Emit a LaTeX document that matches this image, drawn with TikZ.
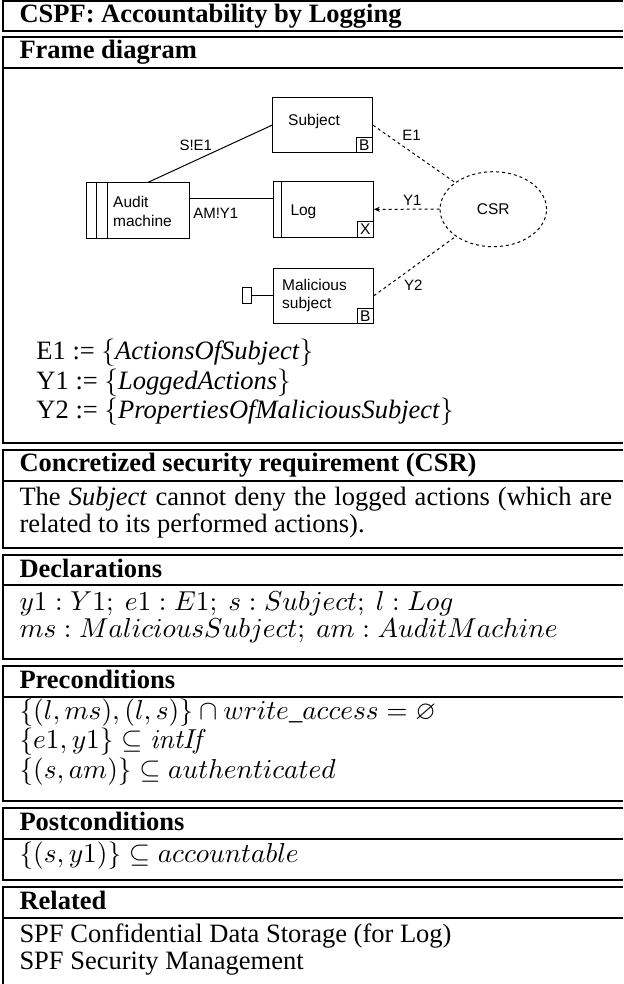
\documentclass[tikz,border=0pt]{standalone}
\usepackage{amssymb}
\usepackage[no-math]{fontspec}
\setmainfont{Liberation Serif}
\newfontfamily\diagfont{Liberation Sans}
\usetikzlibrary{arrows.meta,shapes.geometric}

\tikzset{
    rule/.style={line width=0.5pt},
    hdr/.style={anchor=base west, inner sep=0pt, font=\fontsize{10.6}{12.7}\selectfont\bfseries},
    body/.style={anchor=base west, inner sep=0pt, font=\fontsize{10.6}{12.7}\selectfont},
    dom/.style={draw, line width=0.4pt, minimum width=40pt, minimum height=22.2pt, inner sep=0pt},
    dtext/.style={anchor=base west, inner sep=0pt, font=\diagfont\fontsize{6.2}{7}\selectfont},
    flag/.style={draw, line width=0.4pt, minimum width=6.5pt, minimum height=6.2pt, inner sep=0pt, font=\diagfont\fontsize{6.2}{7}\selectfont},
    lbl/.style={inner sep=0pt, font=\diagfont\fontsize{6}{7}\selectfont},
    iface/.style={line width=0.4pt, dash pattern=on 1.2pt off 1.2pt}
}

\begin{document}
\begin{tikzpicture}[x=0.4pt, y=-0.4pt]
    \useasboundingbox (0,0) rectangle (623,984);

    % table rules
    \draw[rule] (623,1) -- (3,1) -- (3,31) -- (623,31);
    \draw[rule] (623,37) -- (3,37) -- (3,443) -- (623,443);
    \draw[rule] (3,68) -- (623,68);
    \draw[rule] (623,450) -- (3,450) -- (3,548) -- (623,548);
    \draw[rule] (3,481) -- (623,481);
    \draw[rule] (623,555) -- (3,555) -- (3,659) -- (623,659);
    \draw[rule] (3,585) -- (623,585);
    \draw[rule] (623,666) -- (3,666) -- (3,801) -- (623,801);
    \draw[rule] (3,697) -- (623,697);
    \draw[rule] (623,808) -- (3,808) -- (3,880) -- (623,880);
    \draw[rule] (3,839) -- (623,839);
    \draw[rule] (623,887) -- (3,887) -- (3,984);
    \draw[rule] (3,918) -- (623,918);

    % table text
    \node[hdr] (title) at (19,23) {CSPF: Accountability by Logging};
    \node[hdr] (framehdr) at (19,59) {Frame diagram};
    \node[body] (defe) at (36,360) {E1 := $\{$\textit{ActionsOfSubject}$\}$};
    \node[body] (defyone) at (36,389.5) {Y1 := $\{$\textit{LoggedActions}$\}$};
    \node[body] (defytwo) at (36,419) {Y2 := $\{$\textit{PropertiesOfMaliciousSubject}$\}$};
    \node[hdr] (csrhdr) at (19,472) {Concretized security requirement (CSR)};
    \node[body] (csrone) at (19,505) {\makebox[237pt][s]{The \textit{Subject} cannot deny the logged actions (which are}};
    \node[body] (csrtwo) at (19,532) {related to its performed actions).};
    \node[hdr] (declhdr) at (19,577) {Declarations};
    \node[body] (declone) at (19,610) {$y1 : Y1;\ e1 : E1;\ s : Subject;\ l : Log$};
    \node[body] (decltwo) at (19,637) {$ms : MaliciousSubject;\ am : AuditMachine$};
    \node[hdr] (prehdr) at (19,688) {Preconditions};
    \node[body] (preone) at (19,719) {$\{(l,ms),(l,s)\}\cap write\_access=\varnothing$};
    \node[body] (pretwo) at (19,748.5) {$\{e1,y1\}\subseteq \mathit{intIf}$};
    \node[body] (prethree) at (19,778) {$\{(s,am)\}\subseteq authenticated$};
    \node[hdr] (posthdr) at (19,830) {Postconditions};
    \node[body] (postone) at (19,862) {$\{(s,y1)\}\subseteq accountable$};
    \node[hdr] (relhdr) at (19,909) {Related};
    \node[body] (relone) at (19,942) {SPF Confidential Data Storage (for Log)};
    \node[body] (reltwo) at (19,969) {SPF Security Management};

    % frame diagram
    \node[dom] (subject) at (322.5,125.2) {};
    \node[dtext] (subjecttxt) at (287.7,126) {Subject};
    \node[flag, anchor=south east] (subjectflag) at (subject.south east) {B};

    \node[dom, minimum width=41pt] (audit) at (138,210.5) {};
    \draw[line width=0.4pt] ([xshift=4pt]audit.north west) -- ([xshift=4pt]audit.south west);
    \draw[line width=0.4pt] ([xshift=8.4pt]audit.north west) -- ([xshift=8.4pt]audit.south west);
    \node[dtext] (audittxt) at (112.7,208) {Audit};
    \node[dtext] (audittxttwo) at (112.7,227) {machine};

    \node[dom] (log) at (323.3,209.3) {};
    \draw[line width=0.4pt] ([xshift=3.4pt]log.north west) -- ([xshift=3.4pt]log.south west);
    \node[dtext] (logtxt) at (290,215.5) {Log};
    \node[flag, anchor=south east] (logflag) at (log.south east) {X};

    \node[dom] (malicious) at (323.3,295.8) {};
    \node[dtext] (malicioustxt) at (281.7,290.4) {Malicious};
    \node[dtext] (malicioustxttwo) at (281.7,309) {subject};
    \node[flag, anchor=south east] (maliciousflag) at (malicious.south east) {B};
    \node[draw, line width=0.4pt, minimum width=3.6pt, minimum height=6.5pt, inner sep=0pt] (stub) at (247.2,295.8) {};

    \node[draw, ellipse, iface, minimum width=42.6pt, minimum height=30pt, inner sep=0pt, font=\diagfont\fontsize{6.2}{7}\selectfont] (csr) at (493.3,209.2) {CSR};

    \draw[line width=0.4pt] ([xshift=4.1pt]audit.north) -- (subject.west);
    \draw[line width=0.4pt] ([yshift=4.9pt]audit.east) -- ([yshift=4.9pt]audit.east -| log.west);
    \draw[line width=0.4pt] (stub.east) -- (malicious.west);
    \draw[iface] (subject.east) -- (csr);
    \draw[iface, -{Stealth[open, length=2.4pt, width=2pt]}] (csr.west) -- (log.east);
    \draw[iface] (malicious.east) -- (csr);

    \node[lbl] (lblse) at (195.8,145) {S!E1};
    \node[lbl] (lblam) at (215.8,213.3) {AM!Y1};
    \node[lbl] (lble) at (411.5,135) {E1};
    \node[lbl] (lblyone) at (412.3,200) {Y1};
    \node[lbl] (lblytwo) at (413.3,285.7) {Y2};
\end{tikzpicture}
\end{document}
